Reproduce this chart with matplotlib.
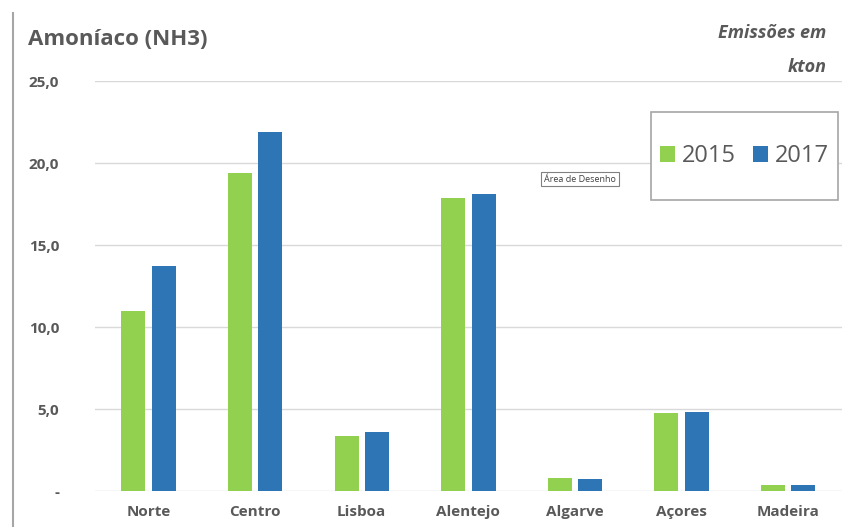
import matplotlib.pyplot as plt
from matplotlib.patches import Rectangle
import numpy as np

regioes = ['Norte', 'Centro', 'Lisboa', 'Alentejo', 'Algarve', 'Açores', 'Madeira']
v2015 = [11.0, 19.4, 3.35, 17.9, 0.8, 4.75, 0.37]
v2017 = [13.7, 21.9, 3.6, 18.1, 0.75, 4.8, 0.37]
yticks = [0, 5, 10, 15, 20, 25]
ylabels = ['-', '5,0', '10,0', '15,0', '20,0', '25,0']

plt.rcParams['font.family'] = ['Open Sans', 'DejaVu Sans']
cinza = '#595959'

fig = plt.figure(figsize=(8.5, 5.27), dpi=100)
ax = fig.add_axes([0.112, 0.068, 0.878, 0.778])

x = np.arange(len(regioes))
w = 0.225
ax.bar(x - w/2 - 0.03, v2015, w, color='#92D050', label='2015', zorder=3)
ax.bar(x + w/2 + 0.03, v2017, w, color='#2E75B6', label='2017', zorder=3)

ax.set_xlim(-0.5, len(regioes) - 0.5)
ax.set_ylim(0, 25)
ax.set_yticks(yticks)
ax.set_yticklabels(ylabels)
ax.set_xticks(x)
ax.set_xticklabels(regioes)
ax.grid(axis='y', color='#D9D9D9', linewidth=1, zorder=0)
for s in ax.spines.values():
    s.set_visible(False)
ax.tick_params(length=0, labelsize=11, labelcolor=cinza)
ax.tick_params(axis='y', pad=26)
ax.tick_params(axis='x', pad=10)
for t in ax.get_xticklabels() + ax.get_yticklabels():
    t.set_fontweight('bold')

# caixa da legenda desenhada à parte
fig.add_artist(Rectangle((651/850, 1 - 200/527), 187/850, 88/527, transform=fig.transFigure,
                         fc='white', ec='#A6A6A6', lw=1.2, zorder=4))
leg = fig.legend(loc='center', bbox_to_anchor=(744.5/850, 1 - 156/527), ncol=2, fontsize=17,
                 frameon=False, handlelength=0.65, handleheight=0.65,
                 handletextpad=0.3, columnspacing=0.7)
leg.set_zorder(5)
for t in leg.get_texts():
    t.set_color(cinza)

fig.text(0.033, 0.925, 'Amoníaco (NH3)', fontsize=16, fontweight='bold', color=cinza, va='center')
fig.text(0.972, 0.937, 'Emissões em', fontsize=13, fontweight='bold', style='italic',
         color=cinza, ha='right', va='center')
fig.text(0.972, 0.872, 'kton', fontsize=13, fontweight='bold', style='italic',
         color=cinza, ha='right', va='center')

# dica de ferramenta sobre a área de desenho
fig.text(0.64, 0.66, 'Área de Desenho', fontsize=6.5, color='#404040', va='center',
         bbox=dict(boxstyle='square,pad=0.3', fc='white', ec='#808080', lw=0.8))

# borda esquerda
fig.add_artist(plt.Line2D([0.015, 0.015], [0, 0.975], color='#A6A6A6', lw=1.5))

fig.savefig('out.png', dpi=100)
